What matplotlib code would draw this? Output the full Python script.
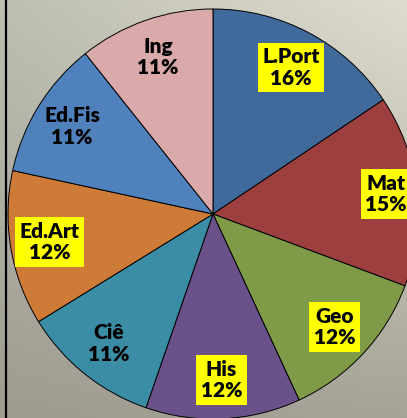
import numpy as np
import matplotlib
matplotlib.use("Agg")
from matplotlib import pyplot as plt

# subjects and their share (clockwise from 12 o'clock)
subjects = ["L.Port", "Mat", "Geo", "His", "Ciê", "Ed.Art", "Ed.Fis", "Ing"]
shares = [15.6, 15.1, 12.4, 12.2, 10.9, 12.2, 10.9, 10.7]
colors = ["#406a9c", "#9e3f3f", "#7f9b48", "#6a5189", "#3b8ca5", "#ce7b38", "#4f81bd", "#daa9a9"]
highlight = [True, True, True, True, False, True, False, False]

W, H = 407, 418
fig = plt.figure(figsize=(W / 100, H / 100), dpi=100)

# gradient background
bg = fig.add_axes([0, 0, 1, 1])
bg.set_axis_off()
tl = np.array([190, 190, 178]) / 255
tr = np.array([222, 220, 206]) / 255
bl = np.array([158, 156, 145]) / 255
br = np.array([166, 163, 151]) / 255
u = np.linspace(0, 1, 64)[None, :, None]
v = np.linspace(0, 1, 64)[:, None, None]
grad = (1 - v) * ((1 - u) * tl + u * tr) + v * ((1 - u) * bl + u * br)
bg.imshow(grad, extent=[0, W, H, 0], aspect="auto", interpolation="bilinear")
bg.set_xlim(0, W)
bg.set_ylim(H, 0)
bg.plot([5.8, 5.8], [0, H], color="black", lw=1.6)

ax = fig.add_axes([0, 0, 1, 1])
ax.set_axis_off()
ax.patch.set_alpha(0)

cx, cy, r = 213, H - 214, 205
wedges, _ = ax.pie(shares, colors=colors, startangle=90, counterclock=False,
                   center=(cx, cy), radius=r, frame=True,
                   wedgeprops=dict(edgecolor="black", linewidth=0.7))
ax.set_xlim(0, W)
ax.set_ylim(0, H)
ax.set_axis_off()

total = sum(shares)
for w, name, val, hl in zip(wedges, subjects, shares, highlight):
    mid = np.deg2rad((w.theta1 + w.theta2) / 2)
    d = 0.85 if name == "Mat" else 0.81
    tx = cx + d * r * np.cos(mid)
    ty = cy + d * r * np.sin(mid)
    if name == "Mat":
        tx = min(tx, 388)
    label = f"{name}\n{round(val / total * 100):.0f}%"
    box = dict(boxstyle="square,pad=0.22", fc="#ffff00", ec="none") if hl else None
    ax.text(tx, ty, label, ha="center", va="center", multialignment="center",
            fontsize=15, fontweight="heavy", family="Lato", linespacing=1.15,
            bbox=box, color="black")

fig.savefig("out.png", dpi=100)
